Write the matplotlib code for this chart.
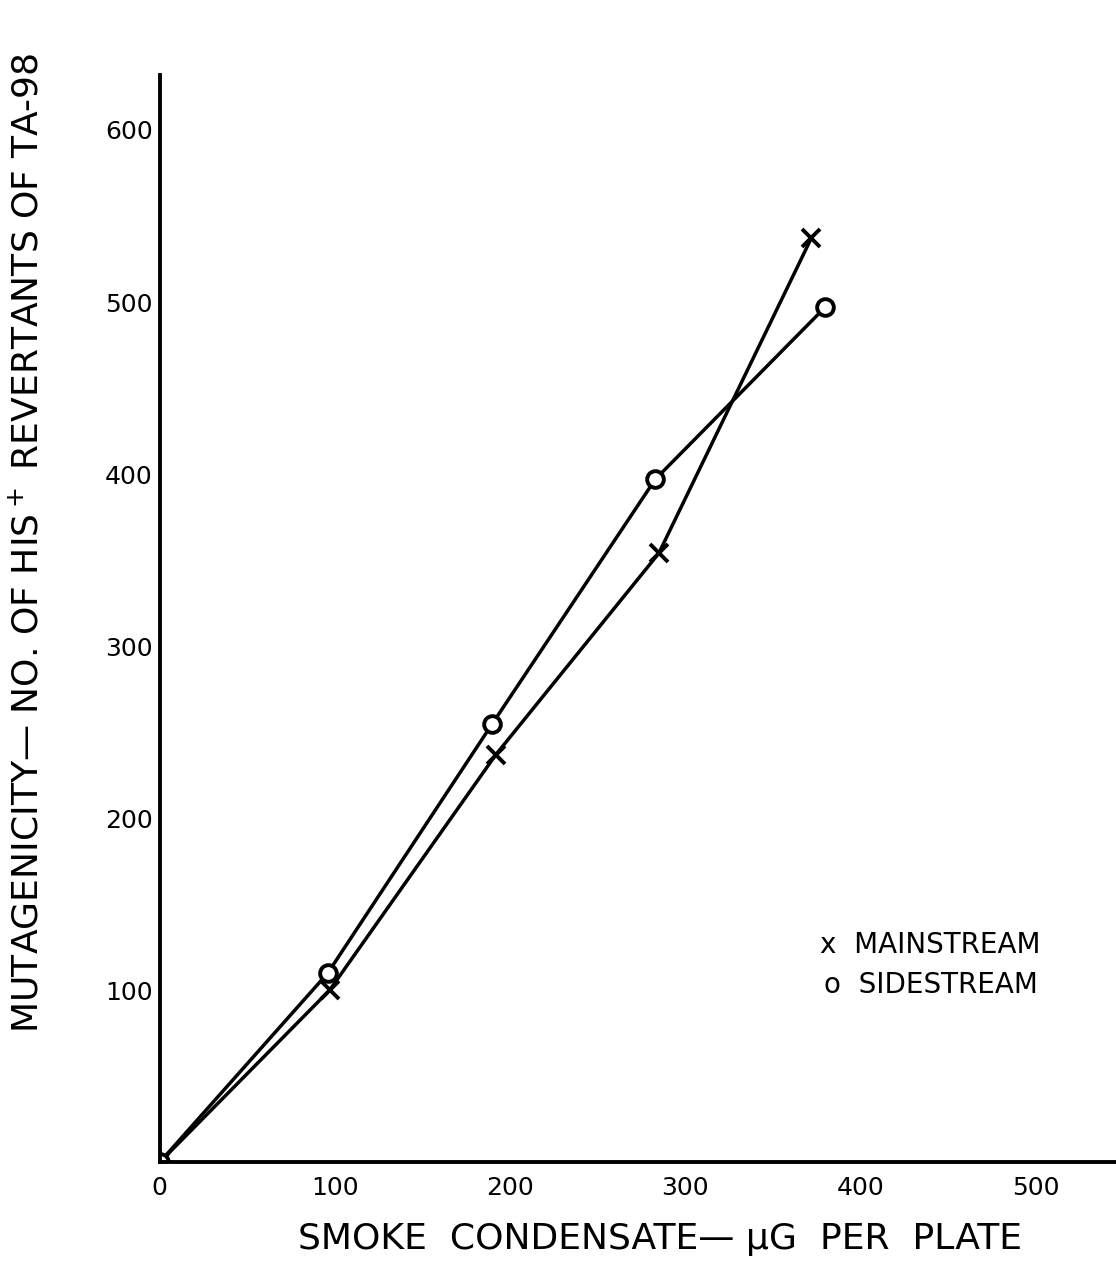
import matplotlib.pyplot as plt

# smoke condensate (ug per plate) vs revertants
mainstream_x = [0, 97, 192, 285, 372]
mainstream_y = [0, 100, 237, 354, 537]
sidestream_x = [0, 96, 190, 283, 380]
sidestream_y = [0, 110, 255, 397, 497]

x_ticks = [0, 100, 200, 300, 400, 500]
y_ticks = [100, 200, 300, 400, 500, 600]

fig = plt.figure(figsize=(11.16, 12.69), dpi=100)
ax = fig.add_axes([0.143, 0.084, 0.857, 0.857])

ax.plot(mainstream_x, mainstream_y, color="black", lw=2.5,
        marker="x", ms=13, mew=2.8)
ax.plot(sidestream_x, sidestream_y, color="black", lw=2.5,
        marker="o", ms=12, mew=2.8, mfc="white")

ax.set_xlim(0, 546)
ax.set_ylim(0, 632)
ax.set_xticks(x_ticks)
ax.set_yticks(y_ticks)
ax.tick_params(length=0, labelsize=18, pad=5)
ax.tick_params(axis="x", pad=10)

for side in ["top", "right"]:
    ax.spines[side].set_visible(False)
for side in ["left", "bottom"]:
    ax.spines[side].set_linewidth(2.8)

ax.set_xlabel("SMOKE  CONDENSATE\u2014 \u00b5G  PER  PLATE", fontsize=26)
ax.xaxis.set_label_coords(0.523, -0.055)
ax.set_ylabel("MUTAGENICITY\u2014 NO. OF HIS$^+$ REVERTANTS OF TA-98", fontsize=26)
ax.yaxis.set_label_coords(-0.12, 0.57)

# hand-written key in the lower right
ax.text(0.69, 0.20, "x  MAINSTREAM", transform=ax.transAxes, fontsize=20, va="center")
ax.text(0.695, 0.163, "o  SIDESTREAM", transform=ax.transAxes, fontsize=20, va="center")

plt.savefig("out.png")
plt.close()
